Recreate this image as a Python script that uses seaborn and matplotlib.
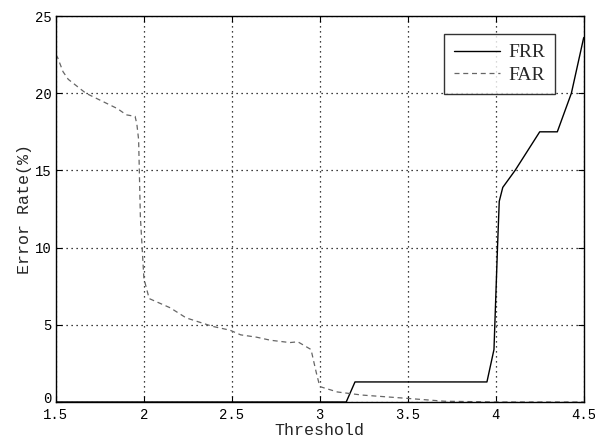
import matplotlib
matplotlib.use("Agg")
import matplotlib.pyplot as plt
import matplotlib.transforms as mtransforms
import seaborn as sns
import pandas as pd

far_x = [1.50, 1.51, 1.54, 1.57, 1.67, 1.85, 1.90, 1.95, 1.96, 1.97, 1.98, 2.00, 2.03,
         2.15, 2.24, 2.39, 2.49, 2.55, 2.64, 2.72, 2.83, 2.875, 2.95, 2.98, 3.00, 3.10,
         3.24, 3.48, 3.71, 3.90, 4.00, 4.20, 4.50]
far_y = [22.5, 22.3, 21.4, 20.9, 20.0, 19.0, 18.6, 18.5, 18.0, 17.0, 12.0, 8.0, 6.7,
         6.1, 5.45, 4.9, 4.65, 4.35, 4.2, 4.0, 3.85, 3.9, 3.4, 1.9, 1.0, 0.65,
         0.45, 0.25, 0.05, 0.02, 0.0, 0.0, 0.0]

frr_x = [1.50, 3.15, 3.20, 3.95, 3.99, 4.01, 4.02, 4.04, 4.11, 4.25, 4.35, 4.43, 4.50]
frr_y = [0.0, 0.0, 1.3, 1.3, 3.4, 10.0, 13.0, 13.9, 15.0, 17.5, 17.5, 20.0, 23.6]

x_ticks = [1.5, 2, 2.5, 3, 3.5, 4, 4.5]
x_tick_labels = ["1.5", "2", "2.5", "3", "3.5", "4", "4.5"]
y_ticks = [0, 5, 10, 15, 20, 25]

sns.set_style("white")
plt.rcParams['font.family'] = ['Liberation Mono', 'DejaVu Sans Mono']

fig = plt.figure(figsize=(5.95, 4.45), dpi=100)
ax = fig.add_axes([0.094, 0.0966, 0.887, 0.8674])

frr_df = pd.DataFrame({"x": frr_x, "y": frr_y})
far_df = pd.DataFrame({"x": far_x, "y": far_y})
sns.lineplot(data=frr_df, x="x", y="y", ax=ax, color="black", lw=1.0,
             label="FRR", estimator=None, sort=False)
sns.lineplot(data=far_df, x="x", y="y", ax=ax, color="#666666", lw=0.9,
             linestyle=(0, (4, 3)), label="FAR", estimator=None, sort=False)

ax.set_xlim(1.5, 4.5)
ax.set_ylim(0, 25)
ax.set_xticks(x_ticks)
ax.set_xticklabels(x_tick_labels)
ax.set_yticks(y_ticks)
ax.grid(True, color="black", linestyle=(0, (1, 3)), linewidth=0.9)
ax.tick_params(direction="in", length=4, labelsize=10, colors="black",
               top=True, right=True, bottom=True, left=True)
ax.tick_params(axis="x", pad=4)
ax.tick_params(axis="y", pad=3)
for s in ax.spines.values():
    s.set_color("black")
    s.set_linewidth(1.0)
ax.set_xlabel("Threshold", fontsize=12, labelpad=1)
ax.set_ylabel("Error Rate(%)", fontsize=12, labelpad=2)

# nudge the y "0" label up slightly so it does not collide with "1.5"
zero_lbl = ax.get_yticklabels()[0]
zero_lbl.set_transform(zero_lbl.get_transform() +
                       mtransforms.ScaledTranslation(0, 3 / 72, fig.dpi_scale_trans))

leg = ax.legend(loc="upper right", bbox_to_anchor=(0.945, 0.953), frameon=True,
                fancybox=False, edgecolor="black", borderaxespad=0,
                prop={"family": "Liberation Serif", "size": 14},
                handlelength=2.4, borderpad=0.5, labelspacing=0.25, handletextpad=0.4)
leg.get_frame().set_linewidth(1.0)

fig.savefig("out.png", dpi=100)
